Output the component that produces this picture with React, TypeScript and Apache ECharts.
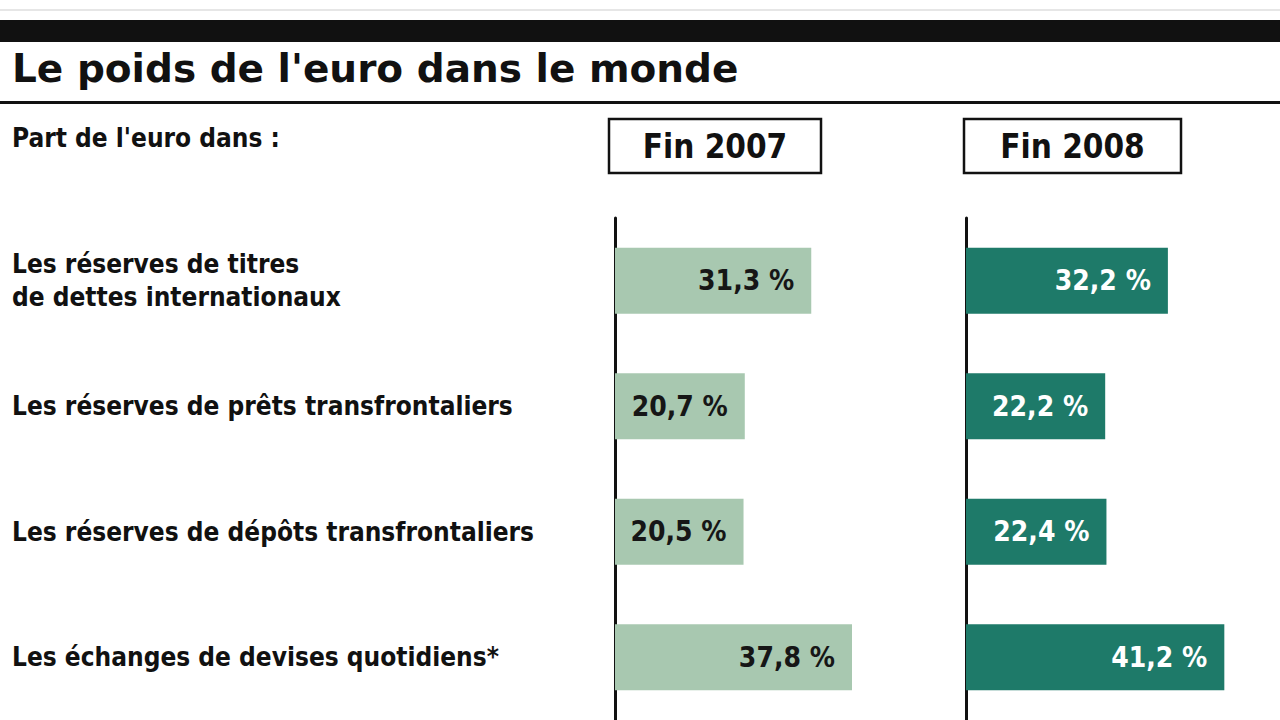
import React, { useEffect, useRef } from "react";
import * as echarts from "echarts";

const title = "Le poids de l'euro dans le monde";
const subtitle = "Part de l'euro dans :";
const periods = ["Fin 2007", "Fin 2008"];
const categories = [
  "Les réserves de titres\nde dettes internationaux",
  "Les réserves de prêts transfrontaliers",
  "Les réserves de dépôts transfrontaliers",
  "Les échanges de devises quotidiens*",
];
const values2007 = [31.3, 20.7, 20.5, 37.8];
const values2008 = [32.2, 22.2, 22.4, 41.2];

const FONT = "'DejaVu Sans Condensed', 'DejaVu Sans', sans-serif";
const fmt = (v: number) => v.toFixed(1).replace(".", ",") + " %";

export default function App() {
  const ref = useRef<HTMLDivElement>(null);
  useEffect(() => {
    if (!ref.current) return;
    const chart = echarts.init(ref.current, null, { renderer: "svg" });
    const MAX = 50;
    const SCALE = 6.27;
    const gridTop = 218;
    const gridH = 506;
    const yAxisBase = (showLabels: boolean) => ({
      type: "category",
      data: categories,
      inverse: true,
      axisLine: { show: true, lineStyle: { color: "#111", width: 3 } },
      axisTick: { show: false },
      splitLine: { show: false },
      axisLabel: showLabels
        ? {
            show: true,
            align: "left",
            margin: 603,
            fontFamily: FONT,
            fontWeight: "bold",
            fontSize: 26,
            lineHeight: 33,
            color: "#111",
          }
        : { show: false },
    });
    const xAxisBase = (gi: number) => ({
      type: "value",
      gridIndex: gi,
      min: 0,
      max: MAX,
      show: false,
    });
    const boxes = [
      { x: 609, w: 212 },
      { x: 964, w: 217 },
    ];
    chart.setOption({
      animation: false,
      backgroundColor: "#ffffff",
      grid: [
        { left: 615, top: gridTop, width: MAX * SCALE, height: gridH },
        { left: 966, top: gridTop, width: MAX * SCALE, height: gridH },
      ],
      xAxis: [xAxisBase(0), xAxisBase(1)],
      yAxis: [
        { ...yAxisBase(true), gridIndex: 0 },
        { ...yAxisBase(false), gridIndex: 1 },
      ],
      series: [
        {
          type: "bar",
          xAxisIndex: 0,
          yAxisIndex: 0,
          data: values2007,
          barWidth: 66,
          itemStyle: { color: "#a8c8b0" },
          label: {
            show: true,
            position: "insideRight",
            distance: 17,
            formatter: (p: any) => fmt(p.value),
            fontFamily: FONT,
            fontWeight: "bold",
            fontSize: 28,
            color: "#161616",
          },
        },
        {
          type: "bar",
          xAxisIndex: 1,
          yAxisIndex: 1,
          data: values2008,
          barWidth: 66,
          itemStyle: { color: "#1e7a69" },
          label: {
            show: true,
            position: "insideRight",
            distance: 17,
            formatter: (p: any) => fmt(p.value),
            fontFamily: FONT,
            fontWeight: "bold",
            fontSize: 28,
            color: "#ffffff",
          },
        },
      ],
      graphic: [
        { type: "rect", shape: { x: 0, y: 9, width: 1280, height: 2 }, style: { fill: "#e6e6e6" } },
        { type: "rect", shape: { x: 0, y: 20, width: 1280, height: 22 }, style: { fill: "#111" } },
        {
          type: "text",
          x: 12,
          y: 68,
          style: {
            text: title,
            fontFamily: "'DejaVu Sans', sans-serif",
            fontWeight: "bold",
            fontSize: 39,
            fill: "#111",
            verticalAlign: "middle",
          },
        },
        { type: "rect", shape: { x: 0, y: 101, width: 1280, height: 3 }, style: { fill: "#111" } },
        {
          type: "text",
          x: 12,
          y: 138,
          style: {
            text: subtitle,
            fontFamily: FONT,
            fontWeight: "bold",
            fontSize: 26,
            fill: "#111",
            verticalAlign: "middle",
          },
        },
        ...boxes.flatMap((b, i) => [
          {
            type: "rect",
            shape: { x: b.x, y: 119, width: b.w, height: 54 },
            style: { fill: "#fff", stroke: "#111", lineWidth: 2.5 },
          },
          {
            type: "text",
            x: b.x + b.w / 2,
            y: 146,
            style: {
              text: periods[i],
              fontFamily: FONT,
              fontWeight: "bold",
              fontSize: 33,
              fill: "#111",
              align: "center",
              verticalAlign: "middle",
            },
          },
        ]),
      ],
    });
    return () => chart.dispose();
  }, []);
  return (
    <div
      ref={ref}
      style={{ position: "fixed", left: 0, top: 0, width: 1280, height: 720, background: "#fff" }}
    />
  );
}
